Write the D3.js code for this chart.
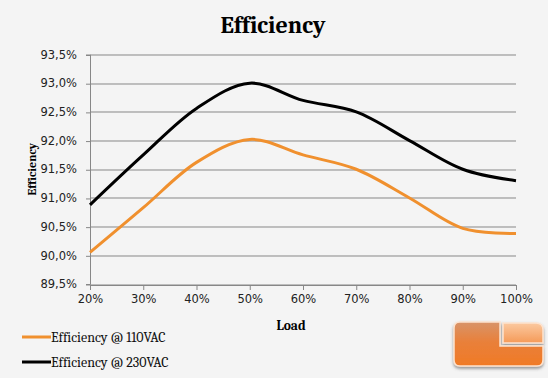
<!DOCTYPE html>
<html>
<head>
<meta charset="utf-8">
<script src="https://cdn.jsdelivr.net/npm/d3@7"></script>
<style>
  body { margin: 0; background: #f4f4f4; }
  svg { display: block; }
</style>
</head>
<body>
<svg id="chart" width="548" height="378"></svg>
<script>
const loads = [20, 30, 40, 50, 60, 70, 80, 90, 100];
const eff110 = [90.05, 90.83, 91.62, 92.02, 91.75, 91.5, 91.0, 90.47, 90.38];
const eff230 = [90.88, 91.75, 92.56, 93.0, 92.7, 92.5, 92.0, 91.5, 91.3];
const yTicks = [89.5, 90.0, 90.5, 91.0, 91.5, 92.0, 92.5, 93.0, 93.5];
const seriesNames = ["Efficiency @ 110VAC", "Efficiency @ 230VAC"];
const seriesColors = ["#f0902e", "#000000"];

const svg = d3.select("#chart");
const margin = { left: 90, right: 32, top: 54.5, bottom: 94 };
const width = 548 - margin.left - margin.right;
const height = 378 - margin.top - margin.bottom;

svg.append("rect").attr("width", 548).attr("height", 378).attr("fill", "#f4f4f4");

const x = d3.scaleLinear().domain([20, 100]).range([0, width]);
const y = d3.scaleLinear().domain([89.5, 93.5]).range([height, 0]);

const g = svg.append("g").attr("transform", `translate(${margin.left}, ${margin.top})`);

// gridlines
g.selectAll(".grid")
    .data(yTicks)
    .enter()
    .append("line")
    .attr("x1", 0)
    .attr("x2", width)
    .attr("y1", (d) => Math.round(y(d)) + 0.5)
    .attr("y2", (d) => Math.round(y(d)) + 0.5)
    .attr("stroke", "#878787")
    .attr("stroke-width", 1);

const fmt = (d) => d.toFixed(1).replace(".", ",") + "%";

const yAxis = g.append("g")
    .call(d3.axisLeft(y).tickValues(yTicks).tickFormat(fmt).tickSize(4).tickPadding(9));
const xAxis = g.append("g")
    .attr("transform", `translate(0, ${Math.round(height) + 0.5})`)
    .call(d3.axisBottom(x).tickValues(loads).tickFormat((d) => d + "%").tickSize(5).tickPadding(5));

[yAxis, xAxis].forEach((a) => {
    a.select(".domain").attr("stroke", "#878787");
    a.selectAll(".tick line").attr("stroke", "#878787");
    a.selectAll("text")
        .attr("fill", "#222")
        .style("font-family", "Tahoma, 'DejaVu Sans', sans-serif")
        .style("font-size", "11.5px");
});
yAxis.selectAll(".tick line").attr("transform", "translate(0,0.5)");

// lines
const line = d3.line()
    .x((d) => x(d[0]))
    .y((d) => y(d[1]))
    .curve(d3.curveCatmullRom.alpha(0.5));

[eff110, eff230].forEach((vals, i) => {
    g.append("path")
        .datum(loads.map((l, j) => [l, vals[j]]))
        .attr("fill", "none")
        .attr("stroke", seriesColors[i])
        .attr("stroke-width", 3)
        .attr("stroke-linejoin", "round")
        .attr("d", line);
});

// titles
const serif = "Cambria, 'Liberation Serif', 'DejaVu Serif', serif";
svg.append("text")
    .attr("x", 273).attr("y", 33)
    .attr("text-anchor", "middle")
    .style("font-family", serif).style("font-weight", "bold").style("font-size", "24px")
    .text("Efficiency");

svg.append("text")
    .attr("x", 291).attr("y", 330)
    .attr("text-anchor", "middle")
    .style("font-family", serif).style("font-weight", "bold").style("font-size", "13.5px")
    .text("Load");

svg.append("text")
    .attr("transform", `translate(36, ${margin.top + height / 2}) rotate(-90)`)
    .attr("text-anchor", "middle")
    .style("font-family", serif).style("font-weight", "bold").style("font-size", "12px")
    .text("Efficiency");

// legend
const legend = svg.append("g");
seriesNames.forEach((name, i) => {
    const ly = 337 + i * 25;
    legend.append("line")
        .attr("x1", 22).attr("x2", 51)
        .attr("y1", ly).attr("y2", ly)
        .attr("stroke", seriesColors[i]).attr("stroke-width", 3);
    legend.append("text")
        .attr("x", 51).attr("y", ly + 5)
        .style("font-family", serif).style("font-size", "14px")
        .attr("fill", "#111")
        .text(name);
});

// logo (bottom right)
const defs = svg.append("defs");
const grad = defs.append("linearGradient").attr("id", "lg").attr("x1", 0).attr("y1", 0).attr("x2", 0).attr("y2", 1);
grad.append("stop").attr("offset", "0%").attr("stop-color", "#d8946a");
grad.append("stop").attr("offset", "45%").attr("stop-color", "#e9803a");
grad.append("stop").attr("offset", "100%").attr("stop-color", "#f07a26");
const grad2 = defs.append("linearGradient").attr("id", "lg2").attr("x1", 0).attr("y1", 0).attr("x2", 0).attr("y2", 1);
grad2.append("stop").attr("offset", "0%").attr("stop-color", "#fbc9a0");
grad2.append("stop").attr("offset", "100%").attr("stop-color", "#f59a58");
const filt = defs.append("filter").attr("id", "sh").attr("x", "-20%").attr("y", "-20%").attr("width", "140%").attr("height", "150%");
filt.append("feDropShadow").attr("dx", 0).attr("dy", 2).attr("stdDeviation", 1.5).attr("flood-color", "#555").attr("flood-opacity", 0.6);

const logo = svg.append("g").attr("filter", "url(#sh)");
logo.append("path")
    .attr("d", "M460,322 H500 V346 H543 V360 Q543,366 537,366 H460 Q454,366 454,360 V328 Q454,322 460,322 Z")
    .attr("fill", "url(#lg)")
    .attr("stroke", "#fde3cf").attr("stroke-width", 1.5);
logo.append("path")
    .attr("d", "M503,323 H536 Q543,323 543,330 V343 H503 Z")
    .attr("fill", "url(#lg2)")
    .attr("stroke", "#fde3cf").attr("stroke-width", 1.5);
</script>
</body>
</html>
